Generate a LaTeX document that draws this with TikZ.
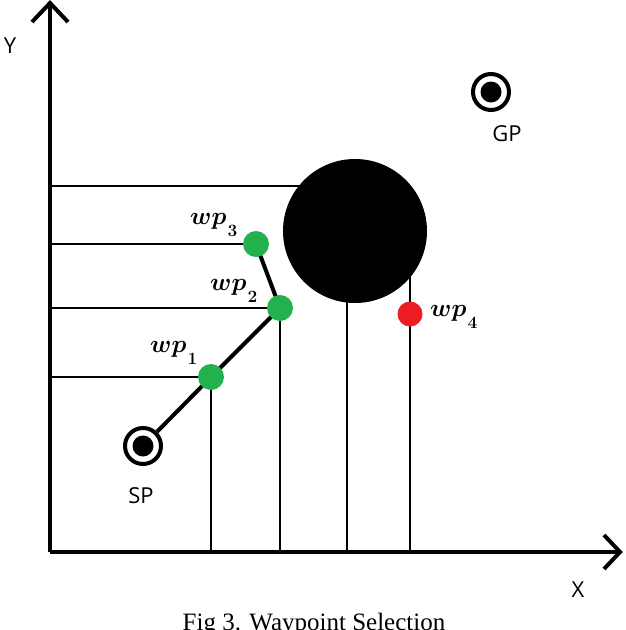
\documentclass[tikz,border=0pt]{standalone}
\usepackage{bm}
\usepackage{fontspec}
\usetikzlibrary{calc}
\setmainfont{Liberation Serif}
\newfontfamily\labfont{Open Sans}
\newcommand{\wpname}[1]{$\bm{wp}\kern1pt\lower12.5pt\hbox{\fontsize{16}{16}\selectfont$\bm{#1}$}$}
\begin{document}
\begin{tikzpicture}[x=1pt,y=-1pt,
  thin line/.style={line width=1.5pt},
  thick line/.style={line width=4pt},
  axis/.style={line width=4pt},
  wpgreen/.style={circle,fill=wpg,minimum size=26pt,inner sep=0pt},
  wpred/.style={circle,fill=wpr,minimum size=25pt,inner sep=0pt},
  endpt/.style={circle,draw=black,line width=4pt,fill=white,minimum size=36pt,inner sep=0pt},
  endcore/.style={circle,fill=black,minimum size=21pt,inner sep=0pt},
  lab/.style={font=\labfont\fontsize{22}{24}\selectfont,inner sep=0pt},
  wplab/.style={font=\fontsize{28}{30}\selectfont,inner sep=0pt,anchor=base west}]
\definecolor{wpg}{RGB}{34,177,76}
\definecolor{wpr}{RGB}{237,28,36}
\useasboundingbox (0,0) rectangle (626,630);
\clip (0,0) rectangle (626,630);
\fill[white] (0,0) rectangle (626,630);
% axes
\coordinate (O) at (50,552);
\coordinate (Ytop) at (50,3);
\coordinate (Xend) at (620,552);
% thin projection lines
\coordinate (h0) at (50,186);
\coordinate (h0e) at (330,186);
\draw[thin line] (h0) -- (h0e);
\coordinate (wp3p) at (256,244);
\coordinate (wp2p) at (280,308);
\coordinate (wp1p) at (211,377);
\coordinate (wp4p) at (410,314);
\coordinate (obsp) at (355,231);
\draw[thin line] (O |- wp3p) -- (wp3p);
\draw[thin line] (O |- wp2p) -- (wp2p);
\draw[thin line] (O |- wp1p) -- (wp1p);
\draw[thin line] (wp1p) -- (wp1p |- O);
\draw[thin line] (wp2p) -- (wp2p |- O);
\coordinate (v3) at (347,231);
\draw[thin line] (v3) -- (v3 |- O);
\coordinate (v4) at (410,231);
\draw[thin line] (v4) -- (v4 |- O);
% obstacle
\node[circle,fill=black,minimum size=144pt,inner sep=0pt] (obs) at (obsp) {};
% axes drawn
\draw[axis] (O) -- (Ytop);
\draw[axis] (O) -- (Xend);
\draw[axis,line join=miter] ($(Ytop)+(-18,19)$) -- (Ytop) -- ($(Ytop)+(18,19)$);
\draw[axis,line join=miter] ($(Xend)+(-16,-17)$) -- (Xend) -- ($(Xend)+(-16,17)$);
% path
\node[endpt] (sp) at (143,446) {};
\node[endcore] (spc) at (sp) {};
\draw[thick line] (sp) -- (wp1p) -- (wp2p) -- (wp3p);
\node[wpgreen] (wp1) at (wp1p) {};
\node[wpgreen] (wp2) at (wp2p) {};
\node[wpgreen] (wp3) at (wp3p) {};
\node[wpred] (wp4) at (wp4p) {};
\node[endpt] (gp) at (491,92) {};
\node[endcore] (gpc) at (gp) {};
% labels
\node[lab] (ylab) at (10,46) {Y};
\node[lab] (xlab) at (578,590) {X};
\node[lab] (splab) at (141,496) {SP};
\node[lab] (gplab) at (507,134) {GP};
\node[wplab] (wp1lab) at (150,352) {\wpname{1}};
\node[wplab] (wp2lab) at (210,290) {\wpname{2}};
\node[wplab] (wp3lab) at (190,224) {\wpname{3}};
\node[wplab] (wp4lab) at (430,316) {\wpname{4}};
\node[font=\fontsize{25}{27}\selectfont,anchor=base,inner sep=0pt] (cap) at (314,630) {Fig 3. Waypoint Selection};
\end{tikzpicture}
\end{document}
